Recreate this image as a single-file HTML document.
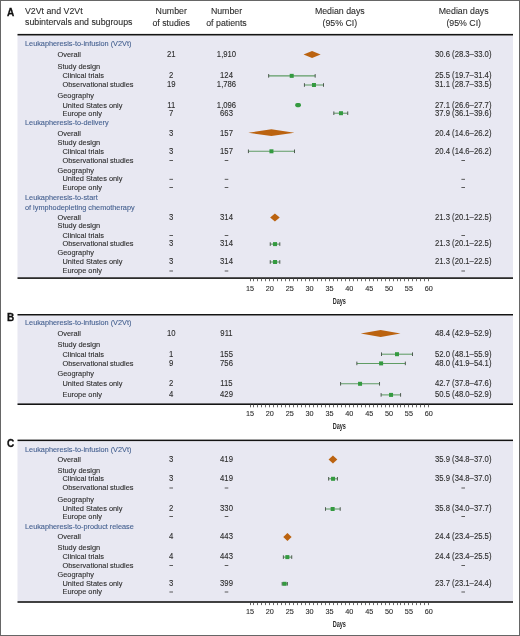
<!DOCTYPE html>
<html><head><meta charset="utf-8"><style>
html,body{margin:0;padding:0;background:#fff;}
body{width:520px;height:636px;overflow:hidden;position:relative;}
#frame{position:absolute;left:0;top:0;width:518px;height:634px;border:1px solid #666;}
svg{position:absolute;left:0;top:0;font-family:"Liberation Sans", sans-serif;filter:blur(0.3px);}
</style></head><body>
<svg width="520" height="636" viewBox="0 0 520 636">
<text x="7.00" y="15.80" font-size="10" fill="#111" text-anchor="start" font-weight="bold" stroke="#111" stroke-width="0.3" >A</text>
<text x="0" y="0" font-size="9.504" fill="#2b2b2b" text-anchor="start" font-weight="normal" stroke="#2b2b2b" stroke-width="0.1" transform="translate(25.00 14.45) scale(0.9259 1)" >V2Vt and V2Vt</text>
<text x="0" y="0" font-size="9.504" fill="#2b2b2b" text-anchor="start" font-weight="normal" stroke="#2b2b2b" stroke-width="0.1" transform="translate(25.00 25.30) scale(0.9259 1)" >subintervals and subgroups</text>
<text x="0" y="0" font-size="9.504" fill="#2b2b2b" text-anchor="middle" font-weight="normal" stroke="#2b2b2b" stroke-width="0.1" transform="translate(171.20 14.40) scale(0.9259 1)" >Number</text>
<text x="0" y="0" font-size="9.504" fill="#2b2b2b" text-anchor="middle" font-weight="normal" stroke="#2b2b2b" stroke-width="0.1" transform="translate(171.20 25.60) scale(0.9259 1)" >of studies</text>
<text x="0" y="0" font-size="9.504" fill="#2b2b2b" text-anchor="middle" font-weight="normal" stroke="#2b2b2b" stroke-width="0.1" transform="translate(226.50 14.40) scale(0.9259 1)" >Number</text>
<text x="0" y="0" font-size="9.504" fill="#2b2b2b" text-anchor="middle" font-weight="normal" stroke="#2b2b2b" stroke-width="0.1" transform="translate(226.50 25.60) scale(0.9259 1)" >of patients</text>
<text x="0" y="0" font-size="9.504" fill="#2b2b2b" text-anchor="middle" font-weight="normal" stroke="#2b2b2b" stroke-width="0.1" transform="translate(339.80 14.40) scale(0.9259 1)" >Median days</text>
<text x="0" y="0" font-size="9.504" fill="#2b2b2b" text-anchor="middle" font-weight="normal" stroke="#2b2b2b" stroke-width="0.1" transform="translate(339.80 25.60) scale(0.9259 1)" >(95% CI)</text>
<text x="0" y="0" font-size="9.504" fill="#2b2b2b" text-anchor="middle" font-weight="normal" stroke="#2b2b2b" stroke-width="0.1" transform="translate(463.70 14.40) scale(0.9259 1)" >Median days</text>
<text x="0" y="0" font-size="9.504" fill="#2b2b2b" text-anchor="middle" font-weight="normal" stroke="#2b2b2b" stroke-width="0.1" transform="translate(463.70 25.60) scale(0.9259 1)" >(95% CI)</text>
<rect x="17.50" y="35.50" width="495.50" height="242.00" fill="#e8e8f2"/>
<rect x="17.50" y="33.90" width="495.50" height="1.60" fill="#141414"/>
<text x="0" y="0" font-size="7.979" fill="#435f8f" text-anchor="start" font-weight="normal" stroke="#435f8f" stroke-width="0.1" transform="translate(25.00 45.70) scale(0.9174 1)" >Leukapheresis-to-infusion (V2Vt)</text>
<text x="0" y="0" font-size="7.992" fill="#2b2b2b" text-anchor="start" font-weight="normal" stroke="#2b2b2b" stroke-width="0.1" transform="translate(57.50 57.00) scale(0.9259 1)" >Overall</text>
<text x="0" y="0" font-size="8.239" fill="#2b2b2b" text-anchor="middle" font-weight="normal" stroke="#2b2b2b" stroke-width="0.1" transform="translate(171.20 57.00) scale(0.9346 1)" >21</text>
<text x="0" y="0" font-size="8.239" fill="#2b2b2b" text-anchor="middle" font-weight="normal" stroke="#2b2b2b" stroke-width="0.1" transform="translate(226.50 57.00) scale(0.9346 1)" >1,910</text>
<text x="0" y="0" font-size="8.239" fill="#2b2b2b" text-anchor="middle" font-weight="normal" stroke="#2b2b2b" stroke-width="0.1" transform="translate(463.20 57.00) scale(0.9346 1)" >30.6 (28.3–33.0)</text>
<polygon points="303.54,54.60 312.08,51.10 320.62,54.60 312.08,58.10" fill="#bb6310"/>
<text x="0" y="0" font-size="7.992" fill="#2b2b2b" text-anchor="start" font-weight="normal" stroke="#2b2b2b" stroke-width="0.1" transform="translate(57.50 69.00) scale(0.9259 1)" >Study design</text>
<text x="0" y="0" font-size="7.992" fill="#2b2b2b" text-anchor="start" font-weight="normal" stroke="#2b2b2b" stroke-width="0.1" transform="translate(62.50 78.00) scale(0.9259 1)" >Clinical trials</text>
<text x="0" y="0" font-size="8.239" fill="#2b2b2b" text-anchor="middle" font-weight="normal" stroke="#2b2b2b" stroke-width="0.1" transform="translate(171.20 78.00) scale(0.9346 1)" >2</text>
<text x="0" y="0" font-size="8.239" fill="#2b2b2b" text-anchor="middle" font-weight="normal" stroke="#2b2b2b" stroke-width="0.1" transform="translate(226.50 78.00) scale(0.9346 1)" >124</text>
<text x="0" y="0" font-size="8.239" fill="#2b2b2b" text-anchor="middle" font-weight="normal" stroke="#2b2b2b" stroke-width="0.1" transform="translate(463.20 78.00) scale(0.9346 1)" >25.5 (19.7–31.4)</text>
<line x1="268.67" y1="75.85" x2="315.16" y2="75.85" stroke="#5f9c64" stroke-width="1.05"/>
<line x1="268.67" y1="74.05" x2="268.67" y2="77.65" stroke="#4d5a4f" stroke-width="1"/>
<line x1="315.16" y1="74.05" x2="315.16" y2="77.65" stroke="#4d5a4f" stroke-width="1"/>
<rect x="289.72" y="73.85" width="4.00" height="4.00" fill="#349a40"/>
<text x="0" y="0" font-size="7.992" fill="#2b2b2b" text-anchor="start" font-weight="normal" stroke="#2b2b2b" stroke-width="0.1" transform="translate(62.50 87.30) scale(0.9259 1)" >Observational studies</text>
<text x="0" y="0" font-size="8.239" fill="#2b2b2b" text-anchor="middle" font-weight="normal" stroke="#2b2b2b" stroke-width="0.1" transform="translate(171.20 87.30) scale(0.9346 1)" >19</text>
<text x="0" y="0" font-size="8.239" fill="#2b2b2b" text-anchor="middle" font-weight="normal" stroke="#2b2b2b" stroke-width="0.1" transform="translate(226.50 87.30) scale(0.9346 1)" >1,786</text>
<text x="0" y="0" font-size="8.239" fill="#2b2b2b" text-anchor="middle" font-weight="normal" stroke="#2b2b2b" stroke-width="0.1" transform="translate(463.20 87.30) scale(0.9346 1)" >31.1 (28.7–33.5)</text>
<line x1="304.43" y1="85.00" x2="323.50" y2="85.00" stroke="#5f9c64" stroke-width="1.05"/>
<line x1="304.43" y1="83.20" x2="304.43" y2="86.80" stroke="#4d5a4f" stroke-width="1"/>
<line x1="323.50" y1="83.20" x2="323.50" y2="86.80" stroke="#4d5a4f" stroke-width="1"/>
<rect x="311.97" y="83.00" width="4.00" height="4.00" fill="#349a40"/>
<text x="0" y="0" font-size="7.992" fill="#2b2b2b" text-anchor="start" font-weight="normal" stroke="#2b2b2b" stroke-width="0.1" transform="translate(57.50 98.00) scale(0.9259 1)" >Geography</text>
<text x="0" y="0" font-size="7.992" fill="#2b2b2b" text-anchor="start" font-weight="normal" stroke="#2b2b2b" stroke-width="0.1" transform="translate(62.50 107.50) scale(0.9259 1)" >United States only</text>
<text x="0" y="0" font-size="8.239" fill="#2b2b2b" text-anchor="middle" font-weight="normal" stroke="#2b2b2b" stroke-width="0.1" transform="translate(171.20 107.50) scale(0.9346 1)" >11</text>
<text x="0" y="0" font-size="8.239" fill="#2b2b2b" text-anchor="middle" font-weight="normal" stroke="#2b2b2b" stroke-width="0.1" transform="translate(226.50 107.50) scale(0.9346 1)" >1,096</text>
<text x="0" y="0" font-size="8.239" fill="#2b2b2b" text-anchor="middle" font-weight="normal" stroke="#2b2b2b" stroke-width="0.1" transform="translate(463.20 107.50) scale(0.9346 1)" >27.1 (26.6–27.7)</text>
<rect x="295.17" y="103.05" width="5.8" height="4.1" rx="1.8" fill="#349a40"/>
<text x="0" y="0" font-size="7.992" fill="#2b2b2b" text-anchor="start" font-weight="normal" stroke="#2b2b2b" stroke-width="0.1" transform="translate(62.50 115.50) scale(0.9259 1)" >Europe only</text>
<text x="0" y="0" font-size="8.239" fill="#2b2b2b" text-anchor="middle" font-weight="normal" stroke="#2b2b2b" stroke-width="0.1" transform="translate(171.20 115.50) scale(0.9346 1)" >7</text>
<text x="0" y="0" font-size="8.239" fill="#2b2b2b" text-anchor="middle" font-weight="normal" stroke="#2b2b2b" stroke-width="0.1" transform="translate(226.50 115.50) scale(0.9346 1)" >663</text>
<text x="0" y="0" font-size="8.239" fill="#2b2b2b" text-anchor="middle" font-weight="normal" stroke="#2b2b2b" stroke-width="0.1" transform="translate(463.20 115.50) scale(0.9346 1)" >37.9 (36.1–39.6)</text>
<line x1="333.83" y1="113.20" x2="347.74" y2="113.20" stroke="#5f9c64" stroke-width="1.05"/>
<line x1="333.83" y1="111.40" x2="333.83" y2="115.00" stroke="#4d5a4f" stroke-width="1"/>
<line x1="347.74" y1="111.40" x2="347.74" y2="115.00" stroke="#4d5a4f" stroke-width="1"/>
<rect x="338.98" y="111.20" width="4.00" height="4.00" fill="#349a40"/>
<text x="0" y="0" font-size="7.979" fill="#435f8f" text-anchor="start" font-weight="normal" stroke="#435f8f" stroke-width="0.1" transform="translate(25.00 125.00) scale(0.9174 1)" >Leukapheresis-to-delivery</text>
<text x="0" y="0" font-size="7.992" fill="#2b2b2b" text-anchor="start" font-weight="normal" stroke="#2b2b2b" stroke-width="0.1" transform="translate(57.50 135.50) scale(0.9259 1)" >Overall</text>
<text x="0" y="0" font-size="8.239" fill="#2b2b2b" text-anchor="middle" font-weight="normal" stroke="#2b2b2b" stroke-width="0.1" transform="translate(171.20 135.50) scale(0.9346 1)" >3</text>
<text x="0" y="0" font-size="8.239" fill="#2b2b2b" text-anchor="middle" font-weight="normal" stroke="#2b2b2b" stroke-width="0.1" transform="translate(226.50 135.50) scale(0.9346 1)" >157</text>
<text x="0" y="0" font-size="8.239" fill="#2b2b2b" text-anchor="middle" font-weight="normal" stroke="#2b2b2b" stroke-width="0.1" transform="translate(463.20 135.50) scale(0.9346 1)" >20.4 (14.6–26.2)</text>
<polygon points="248.31,132.70 271.35,129.30 294.40,132.70 271.35,136.10" fill="#bb6310"/>
<text x="0" y="0" font-size="7.992" fill="#2b2b2b" text-anchor="start" font-weight="normal" stroke="#2b2b2b" stroke-width="0.1" transform="translate(57.50 145.00) scale(0.9259 1)" >Study design</text>
<text x="0" y="0" font-size="7.992" fill="#2b2b2b" text-anchor="start" font-weight="normal" stroke="#2b2b2b" stroke-width="0.1" transform="translate(62.50 153.50) scale(0.9259 1)" >Clinical trials</text>
<text x="0" y="0" font-size="8.239" fill="#2b2b2b" text-anchor="middle" font-weight="normal" stroke="#2b2b2b" stroke-width="0.1" transform="translate(171.20 153.50) scale(0.9346 1)" >3</text>
<text x="0" y="0" font-size="8.239" fill="#2b2b2b" text-anchor="middle" font-weight="normal" stroke="#2b2b2b" stroke-width="0.1" transform="translate(226.50 153.50) scale(0.9346 1)" >157</text>
<text x="0" y="0" font-size="8.239" fill="#2b2b2b" text-anchor="middle" font-weight="normal" stroke="#2b2b2b" stroke-width="0.1" transform="translate(463.20 153.50) scale(0.9346 1)" >20.4 (14.6–26.2)</text>
<line x1="248.41" y1="151.30" x2="294.50" y2="151.30" stroke="#5f9c64" stroke-width="1.05"/>
<line x1="248.41" y1="149.50" x2="248.41" y2="153.10" stroke="#4d5a4f" stroke-width="1"/>
<line x1="294.50" y1="149.50" x2="294.50" y2="153.10" stroke="#4d5a4f" stroke-width="1"/>
<rect x="269.45" y="149.30" width="4.00" height="4.00" fill="#349a40"/>
<text x="0" y="0" font-size="7.992" fill="#2b2b2b" text-anchor="start" font-weight="normal" stroke="#2b2b2b" stroke-width="0.1" transform="translate(62.50 162.50) scale(0.9259 1)" >Observational studies</text>
<rect x="169.40" y="160.05" width="3.60" height="0.90" fill="#4a4a4a"/>
<rect x="224.70" y="160.05" width="3.60" height="0.90" fill="#4a4a4a"/>
<rect x="461.40" y="160.05" width="3.60" height="0.90" fill="#4a4a4a"/>
<text x="0" y="0" font-size="7.992" fill="#2b2b2b" text-anchor="start" font-weight="normal" stroke="#2b2b2b" stroke-width="0.1" transform="translate(57.50 172.50) scale(0.9259 1)" >Geography</text>
<text x="0" y="0" font-size="7.992" fill="#2b2b2b" text-anchor="start" font-weight="normal" stroke="#2b2b2b" stroke-width="0.1" transform="translate(62.50 181.30) scale(0.9259 1)" >United States only</text>
<rect x="169.40" y="178.85" width="3.60" height="0.90" fill="#4a4a4a"/>
<rect x="224.70" y="178.85" width="3.60" height="0.90" fill="#4a4a4a"/>
<rect x="461.40" y="178.85" width="3.60" height="0.90" fill="#4a4a4a"/>
<text x="0" y="0" font-size="7.992" fill="#2b2b2b" text-anchor="start" font-weight="normal" stroke="#2b2b2b" stroke-width="0.1" transform="translate(62.50 189.50) scale(0.9259 1)" >Europe only</text>
<rect x="169.40" y="187.05" width="3.60" height="0.90" fill="#4a4a4a"/>
<rect x="224.70" y="187.05" width="3.60" height="0.90" fill="#4a4a4a"/>
<rect x="461.40" y="187.05" width="3.60" height="0.90" fill="#4a4a4a"/>
<text x="0" y="0" font-size="7.979" fill="#435f8f" text-anchor="start" font-weight="normal" stroke="#435f8f" stroke-width="0.1" transform="translate(25.00 200.00) scale(0.9174 1)" >Leukapheresis-to-start</text>
<text x="0" y="0" font-size="7.979" fill="#435f8f" text-anchor="start" font-weight="normal" stroke="#435f8f" stroke-width="0.1" transform="translate(25.00 210.00) scale(0.9174 1)" >of lymphodepleting chemotherapy</text>
<text x="0" y="0" font-size="7.992" fill="#2b2b2b" text-anchor="start" font-weight="normal" stroke="#2b2b2b" stroke-width="0.1" transform="translate(57.50 219.50) scale(0.9259 1)" >Overall</text>
<text x="0" y="0" font-size="8.239" fill="#2b2b2b" text-anchor="middle" font-weight="normal" stroke="#2b2b2b" stroke-width="0.1" transform="translate(171.20 219.50) scale(0.9346 1)" >3</text>
<text x="0" y="0" font-size="8.239" fill="#2b2b2b" text-anchor="middle" font-weight="normal" stroke="#2b2b2b" stroke-width="0.1" transform="translate(226.50 219.50) scale(0.9346 1)" >314</text>
<text x="0" y="0" font-size="8.239" fill="#2b2b2b" text-anchor="middle" font-weight="normal" stroke="#2b2b2b" stroke-width="0.1" transform="translate(463.20 219.50) scale(0.9346 1)" >21.3 (20.1–22.5)</text>
<polygon points="270.16,217.50 274.93,213.60 279.70,217.50 274.93,221.40" fill="#bb6310"/>
<text x="0" y="0" font-size="7.992" fill="#2b2b2b" text-anchor="start" font-weight="normal" stroke="#2b2b2b" stroke-width="0.1" transform="translate(57.50 228.00) scale(0.9259 1)" >Study design</text>
<text x="0" y="0" font-size="7.992" fill="#2b2b2b" text-anchor="start" font-weight="normal" stroke="#2b2b2b" stroke-width="0.1" transform="translate(62.50 237.50) scale(0.9259 1)" >Clinical trials</text>
<rect x="169.40" y="235.05" width="3.60" height="0.90" fill="#4a4a4a"/>
<rect x="224.70" y="235.05" width="3.60" height="0.90" fill="#4a4a4a"/>
<rect x="461.40" y="235.05" width="3.60" height="0.90" fill="#4a4a4a"/>
<text x="0" y="0" font-size="7.992" fill="#2b2b2b" text-anchor="start" font-weight="normal" stroke="#2b2b2b" stroke-width="0.1" transform="translate(62.50 246.00) scale(0.9259 1)" >Observational studies</text>
<text x="0" y="0" font-size="8.239" fill="#2b2b2b" text-anchor="middle" font-weight="normal" stroke="#2b2b2b" stroke-width="0.1" transform="translate(171.20 246.00) scale(0.9346 1)" >3</text>
<text x="0" y="0" font-size="8.239" fill="#2b2b2b" text-anchor="middle" font-weight="normal" stroke="#2b2b2b" stroke-width="0.1" transform="translate(226.50 246.00) scale(0.9346 1)" >314</text>
<text x="0" y="0" font-size="8.239" fill="#2b2b2b" text-anchor="middle" font-weight="normal" stroke="#2b2b2b" stroke-width="0.1" transform="translate(463.20 246.00) scale(0.9346 1)" >21.3 (20.1–22.5)</text>
<line x1="270.26" y1="244.10" x2="279.80" y2="244.10" stroke="#5f9c64" stroke-width="1.05"/>
<line x1="270.26" y1="242.30" x2="270.26" y2="245.90" stroke="#4d5a4f" stroke-width="1"/>
<line x1="279.80" y1="242.30" x2="279.80" y2="245.90" stroke="#4d5a4f" stroke-width="1"/>
<rect x="273.03" y="242.10" width="4.00" height="4.00" fill="#349a40"/>
<text x="0" y="0" font-size="7.992" fill="#2b2b2b" text-anchor="start" font-weight="normal" stroke="#2b2b2b" stroke-width="0.1" transform="translate(57.50 255.00) scale(0.9259 1)" >Geography</text>
<text x="0" y="0" font-size="7.992" fill="#2b2b2b" text-anchor="start" font-weight="normal" stroke="#2b2b2b" stroke-width="0.1" transform="translate(62.50 264.00) scale(0.9259 1)" >United States only</text>
<text x="0" y="0" font-size="8.239" fill="#2b2b2b" text-anchor="middle" font-weight="normal" stroke="#2b2b2b" stroke-width="0.1" transform="translate(171.20 264.00) scale(0.9346 1)" >3</text>
<text x="0" y="0" font-size="8.239" fill="#2b2b2b" text-anchor="middle" font-weight="normal" stroke="#2b2b2b" stroke-width="0.1" transform="translate(226.50 264.00) scale(0.9346 1)" >314</text>
<text x="0" y="0" font-size="8.239" fill="#2b2b2b" text-anchor="middle" font-weight="normal" stroke="#2b2b2b" stroke-width="0.1" transform="translate(463.20 264.00) scale(0.9346 1)" >21.3 (20.1–22.5)</text>
<line x1="270.26" y1="262.00" x2="279.80" y2="262.00" stroke="#5f9c64" stroke-width="1.05"/>
<line x1="270.26" y1="260.20" x2="270.26" y2="263.80" stroke="#4d5a4f" stroke-width="1"/>
<line x1="279.80" y1="260.20" x2="279.80" y2="263.80" stroke="#4d5a4f" stroke-width="1"/>
<rect x="273.03" y="260.00" width="4.00" height="4.00" fill="#349a40"/>
<text x="0" y="0" font-size="7.992" fill="#2b2b2b" text-anchor="start" font-weight="normal" stroke="#2b2b2b" stroke-width="0.1" transform="translate(62.50 273.00) scale(0.9259 1)" >Europe only</text>
<rect x="169.40" y="270.55" width="3.60" height="0.90" fill="#4a4a4a"/>
<rect x="224.70" y="270.55" width="3.60" height="0.90" fill="#4a4a4a"/>
<rect x="461.40" y="270.55" width="3.60" height="0.90" fill="#4a4a4a"/>
<rect x="17.50" y="277.30" width="495.50" height="1.60" fill="#141414"/>
<rect x="250.08" y="278.30" width="0.8" height="2.90" fill="#444"/>
<rect x="253.08" y="278.30" width="0.8" height="2.90" fill="#444"/>
<rect x="257.08" y="278.30" width="0.8" height="2.90" fill="#444"/>
<rect x="261.08" y="278.30" width="0.8" height="2.90" fill="#444"/>
<rect x="265.08" y="278.30" width="0.8" height="2.90" fill="#444"/>
<rect x="269.08" y="278.30" width="0.8" height="2.90" fill="#444"/>
<rect x="273.08" y="278.30" width="0.8" height="2.90" fill="#444"/>
<rect x="277.08" y="278.30" width="0.8" height="2.90" fill="#444"/>
<rect x="281.08" y="278.30" width="0.8" height="2.90" fill="#444"/>
<rect x="285.08" y="278.30" width="0.8" height="2.90" fill="#444"/>
<rect x="289.08" y="278.30" width="0.8" height="2.90" fill="#444"/>
<rect x="293.08" y="278.30" width="0.8" height="2.90" fill="#444"/>
<rect x="297.08" y="278.30" width="0.8" height="2.90" fill="#444"/>
<rect x="301.08" y="278.30" width="0.8" height="2.90" fill="#444"/>
<rect x="305.08" y="278.30" width="0.8" height="2.90" fill="#444"/>
<rect x="309.08" y="278.30" width="0.8" height="2.90" fill="#444"/>
<rect x="313.08" y="278.30" width="0.8" height="2.90" fill="#444"/>
<rect x="317.08" y="278.30" width="0.8" height="2.90" fill="#444"/>
<rect x="321.08" y="278.30" width="0.8" height="2.90" fill="#444"/>
<rect x="325.08" y="278.30" width="0.8" height="2.90" fill="#444"/>
<rect x="329.08" y="278.30" width="0.8" height="2.90" fill="#444"/>
<rect x="333.08" y="278.30" width="0.8" height="2.90" fill="#444"/>
<rect x="337.08" y="278.30" width="0.8" height="2.90" fill="#444"/>
<rect x="341.08" y="278.30" width="0.8" height="2.90" fill="#444"/>
<rect x="345.08" y="278.30" width="0.8" height="2.90" fill="#444"/>
<rect x="349.08" y="278.30" width="0.8" height="2.90" fill="#444"/>
<rect x="353.08" y="278.30" width="0.8" height="2.90" fill="#444"/>
<rect x="357.08" y="278.30" width="0.8" height="2.90" fill="#444"/>
<rect x="361.08" y="278.30" width="0.8" height="2.90" fill="#444"/>
<rect x="365.08" y="278.30" width="0.8" height="2.90" fill="#444"/>
<rect x="369.08" y="278.30" width="0.8" height="2.90" fill="#444"/>
<rect x="373.08" y="278.30" width="0.8" height="2.90" fill="#444"/>
<rect x="377.08" y="278.30" width="0.8" height="2.90" fill="#444"/>
<rect x="381.08" y="278.30" width="0.8" height="2.90" fill="#444"/>
<rect x="385.08" y="278.30" width="0.8" height="2.90" fill="#444"/>
<rect x="389.08" y="278.30" width="0.8" height="2.90" fill="#444"/>
<rect x="393.08" y="278.30" width="0.8" height="2.90" fill="#444"/>
<rect x="397.08" y="278.30" width="0.8" height="2.90" fill="#444"/>
<rect x="400.08" y="278.30" width="0.8" height="2.90" fill="#444"/>
<rect x="404.08" y="278.30" width="0.8" height="2.90" fill="#444"/>
<rect x="408.08" y="278.30" width="0.8" height="2.90" fill="#444"/>
<rect x="412.08" y="278.30" width="0.8" height="2.90" fill="#444"/>
<rect x="416.08" y="278.30" width="0.8" height="2.90" fill="#444"/>
<rect x="420.08" y="278.30" width="0.8" height="2.90" fill="#444"/>
<rect x="424.08" y="278.30" width="0.8" height="2.90" fill="#444"/>
<rect x="428.08" y="278.30" width="0.8" height="2.90" fill="#444"/>
<text x="0" y="0" font-size="7.811" fill="#2b2b2b" text-anchor="middle" font-weight="normal" stroke="#2b2b2b" stroke-width="0.1" transform="translate(250.00 290.50) scale(0.9346 1)" >15</text>
<text x="0" y="0" font-size="7.811" fill="#2b2b2b" text-anchor="middle" font-weight="normal" stroke="#2b2b2b" stroke-width="0.1" transform="translate(269.87 290.50) scale(0.9346 1)" >20</text>
<text x="0" y="0" font-size="7.811" fill="#2b2b2b" text-anchor="middle" font-weight="normal" stroke="#2b2b2b" stroke-width="0.1" transform="translate(289.73 290.50) scale(0.9346 1)" >25</text>
<text x="0" y="0" font-size="7.811" fill="#2b2b2b" text-anchor="middle" font-weight="normal" stroke="#2b2b2b" stroke-width="0.1" transform="translate(309.60 290.50) scale(0.9346 1)" >30</text>
<text x="0" y="0" font-size="7.811" fill="#2b2b2b" text-anchor="middle" font-weight="normal" stroke="#2b2b2b" stroke-width="0.1" transform="translate(329.46 290.50) scale(0.9346 1)" >35</text>
<text x="0" y="0" font-size="7.811" fill="#2b2b2b" text-anchor="middle" font-weight="normal" stroke="#2b2b2b" stroke-width="0.1" transform="translate(349.32 290.50) scale(0.9346 1)" >40</text>
<text x="0" y="0" font-size="7.811" fill="#2b2b2b" text-anchor="middle" font-weight="normal" stroke="#2b2b2b" stroke-width="0.1" transform="translate(369.19 290.50) scale(0.9346 1)" >45</text>
<text x="0" y="0" font-size="7.811" fill="#2b2b2b" text-anchor="middle" font-weight="normal" stroke="#2b2b2b" stroke-width="0.1" transform="translate(389.06 290.50) scale(0.9346 1)" >50</text>
<text x="0" y="0" font-size="7.811" fill="#2b2b2b" text-anchor="middle" font-weight="normal" stroke="#2b2b2b" stroke-width="0.1" transform="translate(408.92 290.50) scale(0.9346 1)" >55</text>
<text x="0" y="0" font-size="7.811" fill="#2b2b2b" text-anchor="middle" font-weight="normal" stroke="#2b2b2b" stroke-width="0.1" transform="translate(428.78 290.50) scale(0.9346 1)" >60</text>
<text x="0" y="0" font-size="9.9" font-weight="bold" fill="#2b2b2b" text-anchor="middle" transform="translate(339.3 303.6) scale(0.56 1)">Days</text>
<text x="7.00" y="321.30" font-size="10" fill="#111" text-anchor="start" font-weight="bold" stroke="#111" stroke-width="0.3" >B</text>
<rect x="17.50" y="315.40" width="495.50" height="88.20" fill="#e8e8f2"/>
<rect x="17.50" y="314.00" width="495.50" height="1.50" fill="#141414"/>
<text x="0" y="0" font-size="7.979" fill="#435f8f" text-anchor="start" font-weight="normal" stroke="#435f8f" stroke-width="0.1" transform="translate(25.00 325.00) scale(0.9174 1)" >Leukapheresis-to-infusion (V2Vt)</text>
<text x="0" y="0" font-size="7.992" fill="#2b2b2b" text-anchor="start" font-weight="normal" stroke="#2b2b2b" stroke-width="0.1" transform="translate(57.50 335.50) scale(0.9259 1)" >Overall</text>
<text x="0" y="0" font-size="8.239" fill="#2b2b2b" text-anchor="middle" font-weight="normal" stroke="#2b2b2b" stroke-width="0.1" transform="translate(171.20 335.50) scale(0.9346 1)" >10</text>
<text x="0" y="0" font-size="8.239" fill="#2b2b2b" text-anchor="middle" font-weight="normal" stroke="#2b2b2b" stroke-width="0.1" transform="translate(226.50 335.50) scale(0.9346 1)" >911</text>
<text x="0" y="0" font-size="8.239" fill="#2b2b2b" text-anchor="middle" font-weight="normal" stroke="#2b2b2b" stroke-width="0.1" transform="translate(463.20 335.50) scale(0.9346 1)" >48.4 (42.9–52.9)</text>
<polygon points="360.75,333.50 380.61,330.10 400.48,333.50 380.61,336.90" fill="#bb6310"/>
<text x="0" y="0" font-size="7.992" fill="#2b2b2b" text-anchor="start" font-weight="normal" stroke="#2b2b2b" stroke-width="0.1" transform="translate(57.50 346.50) scale(0.9259 1)" >Study design</text>
<text x="0" y="0" font-size="7.992" fill="#2b2b2b" text-anchor="start" font-weight="normal" stroke="#2b2b2b" stroke-width="0.1" transform="translate(62.50 356.50) scale(0.9259 1)" >Clinical trials</text>
<text x="0" y="0" font-size="8.239" fill="#2b2b2b" text-anchor="middle" font-weight="normal" stroke="#2b2b2b" stroke-width="0.1" transform="translate(171.20 356.50) scale(0.9346 1)" >1</text>
<text x="0" y="0" font-size="8.239" fill="#2b2b2b" text-anchor="middle" font-weight="normal" stroke="#2b2b2b" stroke-width="0.1" transform="translate(226.50 356.50) scale(0.9346 1)" >155</text>
<text x="0" y="0" font-size="8.239" fill="#2b2b2b" text-anchor="middle" font-weight="normal" stroke="#2b2b2b" stroke-width="0.1" transform="translate(463.20 356.50) scale(0.9346 1)" >52.0 (48.1–55.9)</text>
<line x1="381.51" y1="354.20" x2="412.50" y2="354.20" stroke="#5f9c64" stroke-width="1.05"/>
<line x1="381.51" y1="352.40" x2="381.51" y2="356.00" stroke="#4d5a4f" stroke-width="1"/>
<line x1="412.50" y1="352.40" x2="412.50" y2="356.00" stroke="#4d5a4f" stroke-width="1"/>
<rect x="395.00" y="352.20" width="4.00" height="4.00" fill="#349a40"/>
<text x="0" y="0" font-size="7.992" fill="#2b2b2b" text-anchor="start" font-weight="normal" stroke="#2b2b2b" stroke-width="0.1" transform="translate(62.50 365.50) scale(0.9259 1)" >Observational studies</text>
<text x="0" y="0" font-size="8.239" fill="#2b2b2b" text-anchor="middle" font-weight="normal" stroke="#2b2b2b" stroke-width="0.1" transform="translate(171.20 365.50) scale(0.9346 1)" >9</text>
<text x="0" y="0" font-size="8.239" fill="#2b2b2b" text-anchor="middle" font-weight="normal" stroke="#2b2b2b" stroke-width="0.1" transform="translate(226.50 365.50) scale(0.9346 1)" >756</text>
<text x="0" y="0" font-size="8.239" fill="#2b2b2b" text-anchor="middle" font-weight="normal" stroke="#2b2b2b" stroke-width="0.1" transform="translate(463.20 365.50) scale(0.9346 1)" >48.0 (41.9–54.1)</text>
<line x1="356.87" y1="363.40" x2="405.34" y2="363.40" stroke="#5f9c64" stroke-width="1.05"/>
<line x1="356.87" y1="361.60" x2="356.87" y2="365.20" stroke="#4d5a4f" stroke-width="1"/>
<line x1="405.34" y1="361.60" x2="405.34" y2="365.20" stroke="#4d5a4f" stroke-width="1"/>
<rect x="379.11" y="361.40" width="4.00" height="4.00" fill="#349a40"/>
<text x="0" y="0" font-size="7.992" fill="#2b2b2b" text-anchor="start" font-weight="normal" stroke="#2b2b2b" stroke-width="0.1" transform="translate(57.50 375.50) scale(0.9259 1)" >Geography</text>
<text x="0" y="0" font-size="7.992" fill="#2b2b2b" text-anchor="start" font-weight="normal" stroke="#2b2b2b" stroke-width="0.1" transform="translate(62.50 386.00) scale(0.9259 1)" >United States only</text>
<text x="0" y="0" font-size="8.239" fill="#2b2b2b" text-anchor="middle" font-weight="normal" stroke="#2b2b2b" stroke-width="0.1" transform="translate(171.20 386.00) scale(0.9346 1)" >2</text>
<text x="0" y="0" font-size="8.239" fill="#2b2b2b" text-anchor="middle" font-weight="normal" stroke="#2b2b2b" stroke-width="0.1" transform="translate(226.50 386.00) scale(0.9346 1)" >115</text>
<text x="0" y="0" font-size="8.239" fill="#2b2b2b" text-anchor="middle" font-weight="normal" stroke="#2b2b2b" stroke-width="0.1" transform="translate(463.20 386.00) scale(0.9346 1)" >42.7 (37.8–47.6)</text>
<line x1="340.58" y1="383.80" x2="379.52" y2="383.80" stroke="#5f9c64" stroke-width="1.05"/>
<line x1="340.58" y1="382.00" x2="340.58" y2="385.60" stroke="#4d5a4f" stroke-width="1"/>
<line x1="379.52" y1="382.00" x2="379.52" y2="385.60" stroke="#4d5a4f" stroke-width="1"/>
<rect x="358.05" y="381.80" width="4.00" height="4.00" fill="#349a40"/>
<text x="0" y="0" font-size="7.992" fill="#2b2b2b" text-anchor="start" font-weight="normal" stroke="#2b2b2b" stroke-width="0.1" transform="translate(62.50 397.00) scale(0.9259 1)" >Europe only</text>
<text x="0" y="0" font-size="8.239" fill="#2b2b2b" text-anchor="middle" font-weight="normal" stroke="#2b2b2b" stroke-width="0.1" transform="translate(171.20 397.00) scale(0.9346 1)" >4</text>
<text x="0" y="0" font-size="8.239" fill="#2b2b2b" text-anchor="middle" font-weight="normal" stroke="#2b2b2b" stroke-width="0.1" transform="translate(226.50 397.00) scale(0.9346 1)" >429</text>
<text x="0" y="0" font-size="8.239" fill="#2b2b2b" text-anchor="middle" font-weight="normal" stroke="#2b2b2b" stroke-width="0.1" transform="translate(463.20 397.00) scale(0.9346 1)" >50.5 (48.0–52.9)</text>
<line x1="381.11" y1="394.90" x2="400.58" y2="394.90" stroke="#5f9c64" stroke-width="1.05"/>
<line x1="381.11" y1="393.10" x2="381.11" y2="396.70" stroke="#4d5a4f" stroke-width="1"/>
<line x1="400.58" y1="393.10" x2="400.58" y2="396.70" stroke="#4d5a4f" stroke-width="1"/>
<rect x="389.04" y="392.90" width="4.00" height="4.00" fill="#349a40"/>
<rect x="17.50" y="403.40" width="495.50" height="1.60" fill="#141414"/>
<rect x="250.08" y="404.40" width="0.8" height="2.90" fill="#444"/>
<rect x="253.08" y="404.40" width="0.8" height="2.90" fill="#444"/>
<rect x="257.08" y="404.40" width="0.8" height="2.90" fill="#444"/>
<rect x="261.08" y="404.40" width="0.8" height="2.90" fill="#444"/>
<rect x="265.08" y="404.40" width="0.8" height="2.90" fill="#444"/>
<rect x="269.08" y="404.40" width="0.8" height="2.90" fill="#444"/>
<rect x="273.08" y="404.40" width="0.8" height="2.90" fill="#444"/>
<rect x="277.08" y="404.40" width="0.8" height="2.90" fill="#444"/>
<rect x="281.08" y="404.40" width="0.8" height="2.90" fill="#444"/>
<rect x="285.08" y="404.40" width="0.8" height="2.90" fill="#444"/>
<rect x="289.08" y="404.40" width="0.8" height="2.90" fill="#444"/>
<rect x="293.08" y="404.40" width="0.8" height="2.90" fill="#444"/>
<rect x="297.08" y="404.40" width="0.8" height="2.90" fill="#444"/>
<rect x="301.08" y="404.40" width="0.8" height="2.90" fill="#444"/>
<rect x="305.08" y="404.40" width="0.8" height="2.90" fill="#444"/>
<rect x="309.08" y="404.40" width="0.8" height="2.90" fill="#444"/>
<rect x="313.08" y="404.40" width="0.8" height="2.90" fill="#444"/>
<rect x="317.08" y="404.40" width="0.8" height="2.90" fill="#444"/>
<rect x="321.08" y="404.40" width="0.8" height="2.90" fill="#444"/>
<rect x="325.08" y="404.40" width="0.8" height="2.90" fill="#444"/>
<rect x="329.08" y="404.40" width="0.8" height="2.90" fill="#444"/>
<rect x="333.08" y="404.40" width="0.8" height="2.90" fill="#444"/>
<rect x="337.08" y="404.40" width="0.8" height="2.90" fill="#444"/>
<rect x="341.08" y="404.40" width="0.8" height="2.90" fill="#444"/>
<rect x="345.08" y="404.40" width="0.8" height="2.90" fill="#444"/>
<rect x="349.08" y="404.40" width="0.8" height="2.90" fill="#444"/>
<rect x="353.08" y="404.40" width="0.8" height="2.90" fill="#444"/>
<rect x="357.08" y="404.40" width="0.8" height="2.90" fill="#444"/>
<rect x="361.08" y="404.40" width="0.8" height="2.90" fill="#444"/>
<rect x="365.08" y="404.40" width="0.8" height="2.90" fill="#444"/>
<rect x="369.08" y="404.40" width="0.8" height="2.90" fill="#444"/>
<rect x="373.08" y="404.40" width="0.8" height="2.90" fill="#444"/>
<rect x="377.08" y="404.40" width="0.8" height="2.90" fill="#444"/>
<rect x="381.08" y="404.40" width="0.8" height="2.90" fill="#444"/>
<rect x="385.08" y="404.40" width="0.8" height="2.90" fill="#444"/>
<rect x="389.08" y="404.40" width="0.8" height="2.90" fill="#444"/>
<rect x="393.08" y="404.40" width="0.8" height="2.90" fill="#444"/>
<rect x="397.08" y="404.40" width="0.8" height="2.90" fill="#444"/>
<rect x="400.08" y="404.40" width="0.8" height="2.90" fill="#444"/>
<rect x="404.08" y="404.40" width="0.8" height="2.90" fill="#444"/>
<rect x="408.08" y="404.40" width="0.8" height="2.90" fill="#444"/>
<rect x="412.08" y="404.40" width="0.8" height="2.90" fill="#444"/>
<rect x="416.08" y="404.40" width="0.8" height="2.90" fill="#444"/>
<rect x="420.08" y="404.40" width="0.8" height="2.90" fill="#444"/>
<rect x="424.08" y="404.40" width="0.8" height="2.90" fill="#444"/>
<rect x="428.08" y="404.40" width="0.8" height="2.90" fill="#444"/>
<text x="0" y="0" font-size="7.811" fill="#2b2b2b" text-anchor="middle" font-weight="normal" stroke="#2b2b2b" stroke-width="0.1" transform="translate(250.00 416.40) scale(0.9346 1)" >15</text>
<text x="0" y="0" font-size="7.811" fill="#2b2b2b" text-anchor="middle" font-weight="normal" stroke="#2b2b2b" stroke-width="0.1" transform="translate(269.87 416.40) scale(0.9346 1)" >20</text>
<text x="0" y="0" font-size="7.811" fill="#2b2b2b" text-anchor="middle" font-weight="normal" stroke="#2b2b2b" stroke-width="0.1" transform="translate(289.73 416.40) scale(0.9346 1)" >25</text>
<text x="0" y="0" font-size="7.811" fill="#2b2b2b" text-anchor="middle" font-weight="normal" stroke="#2b2b2b" stroke-width="0.1" transform="translate(309.60 416.40) scale(0.9346 1)" >30</text>
<text x="0" y="0" font-size="7.811" fill="#2b2b2b" text-anchor="middle" font-weight="normal" stroke="#2b2b2b" stroke-width="0.1" transform="translate(329.46 416.40) scale(0.9346 1)" >35</text>
<text x="0" y="0" font-size="7.811" fill="#2b2b2b" text-anchor="middle" font-weight="normal" stroke="#2b2b2b" stroke-width="0.1" transform="translate(349.32 416.40) scale(0.9346 1)" >40</text>
<text x="0" y="0" font-size="7.811" fill="#2b2b2b" text-anchor="middle" font-weight="normal" stroke="#2b2b2b" stroke-width="0.1" transform="translate(369.19 416.40) scale(0.9346 1)" >45</text>
<text x="0" y="0" font-size="7.811" fill="#2b2b2b" text-anchor="middle" font-weight="normal" stroke="#2b2b2b" stroke-width="0.1" transform="translate(389.06 416.40) scale(0.9346 1)" >50</text>
<text x="0" y="0" font-size="7.811" fill="#2b2b2b" text-anchor="middle" font-weight="normal" stroke="#2b2b2b" stroke-width="0.1" transform="translate(408.92 416.40) scale(0.9346 1)" >55</text>
<text x="0" y="0" font-size="7.811" fill="#2b2b2b" text-anchor="middle" font-weight="normal" stroke="#2b2b2b" stroke-width="0.1" transform="translate(428.78 416.40) scale(0.9346 1)" >60</text>
<text x="0" y="0" font-size="9.9" font-weight="bold" fill="#2b2b2b" text-anchor="middle" transform="translate(339.3 429.3) scale(0.56 1)">Days</text>
<text x="7.00" y="447.30" font-size="10" fill="#111" text-anchor="start" font-weight="bold" stroke="#111" stroke-width="0.3" >C</text>
<rect x="17.50" y="441.10" width="495.50" height="160.30" fill="#e8e8f2"/>
<rect x="17.50" y="439.60" width="495.50" height="1.50" fill="#141414"/>
<text x="0" y="0" font-size="7.979" fill="#435f8f" text-anchor="start" font-weight="normal" stroke="#435f8f" stroke-width="0.1" transform="translate(25.00 451.50) scale(0.9174 1)" >Leukapheresis-to-infusion (V2Vt)</text>
<text x="0" y="0" font-size="7.992" fill="#2b2b2b" text-anchor="start" font-weight="normal" stroke="#2b2b2b" stroke-width="0.1" transform="translate(57.50 461.50) scale(0.9259 1)" >Overall</text>
<text x="0" y="0" font-size="8.239" fill="#2b2b2b" text-anchor="middle" font-weight="normal" stroke="#2b2b2b" stroke-width="0.1" transform="translate(171.20 461.50) scale(0.9346 1)" >3</text>
<text x="0" y="0" font-size="8.239" fill="#2b2b2b" text-anchor="middle" font-weight="normal" stroke="#2b2b2b" stroke-width="0.1" transform="translate(226.50 461.50) scale(0.9346 1)" >419</text>
<text x="0" y="0" font-size="8.239" fill="#2b2b2b" text-anchor="middle" font-weight="normal" stroke="#2b2b2b" stroke-width="0.1" transform="translate(463.20 461.50) scale(0.9346 1)" >35.9 (34.8–37.0)</text>
<polygon points="328.57,459.50 332.94,455.60 337.31,459.50 332.94,463.40" fill="#bb6310"/>
<text x="0" y="0" font-size="7.992" fill="#2b2b2b" text-anchor="start" font-weight="normal" stroke="#2b2b2b" stroke-width="0.1" transform="translate(57.50 472.50) scale(0.9259 1)" >Study design</text>
<text x="0" y="0" font-size="7.992" fill="#2b2b2b" text-anchor="start" font-weight="normal" stroke="#2b2b2b" stroke-width="0.1" transform="translate(62.50 481.00) scale(0.9259 1)" >Clinical trials</text>
<text x="0" y="0" font-size="8.239" fill="#2b2b2b" text-anchor="middle" font-weight="normal" stroke="#2b2b2b" stroke-width="0.1" transform="translate(171.20 481.00) scale(0.9346 1)" >3</text>
<text x="0" y="0" font-size="8.239" fill="#2b2b2b" text-anchor="middle" font-weight="normal" stroke="#2b2b2b" stroke-width="0.1" transform="translate(226.50 481.00) scale(0.9346 1)" >419</text>
<text x="0" y="0" font-size="8.239" fill="#2b2b2b" text-anchor="middle" font-weight="normal" stroke="#2b2b2b" stroke-width="0.1" transform="translate(463.20 481.00) scale(0.9346 1)" >35.9 (34.8–37.0)</text>
<line x1="328.67" y1="478.80" x2="337.41" y2="478.80" stroke="#5f9c64" stroke-width="1.05"/>
<line x1="328.67" y1="477.00" x2="328.67" y2="480.60" stroke="#4d5a4f" stroke-width="1"/>
<line x1="337.41" y1="477.00" x2="337.41" y2="480.60" stroke="#4d5a4f" stroke-width="1"/>
<rect x="331.04" y="476.80" width="4.00" height="4.00" fill="#349a40"/>
<text x="0" y="0" font-size="7.992" fill="#2b2b2b" text-anchor="start" font-weight="normal" stroke="#2b2b2b" stroke-width="0.1" transform="translate(62.50 490.00) scale(0.9259 1)" >Observational studies</text>
<rect x="169.40" y="487.55" width="3.60" height="0.90" fill="#4a4a4a"/>
<rect x="224.70" y="487.55" width="3.60" height="0.90" fill="#4a4a4a"/>
<rect x="461.40" y="487.55" width="3.60" height="0.90" fill="#4a4a4a"/>
<text x="0" y="0" font-size="7.992" fill="#2b2b2b" text-anchor="start" font-weight="normal" stroke="#2b2b2b" stroke-width="0.1" transform="translate(57.50 501.50) scale(0.9259 1)" >Geography</text>
<text x="0" y="0" font-size="7.992" fill="#2b2b2b" text-anchor="start" font-weight="normal" stroke="#2b2b2b" stroke-width="0.1" transform="translate(62.50 511.00) scale(0.9259 1)" >United States only</text>
<text x="0" y="0" font-size="8.239" fill="#2b2b2b" text-anchor="middle" font-weight="normal" stroke="#2b2b2b" stroke-width="0.1" transform="translate(171.20 511.00) scale(0.9346 1)" >2</text>
<text x="0" y="0" font-size="8.239" fill="#2b2b2b" text-anchor="middle" font-weight="normal" stroke="#2b2b2b" stroke-width="0.1" transform="translate(226.50 511.00) scale(0.9346 1)" >330</text>
<text x="0" y="0" font-size="8.239" fill="#2b2b2b" text-anchor="middle" font-weight="normal" stroke="#2b2b2b" stroke-width="0.1" transform="translate(463.20 511.00) scale(0.9346 1)" >35.8 (34.0–37.7)</text>
<line x1="325.49" y1="509.00" x2="340.19" y2="509.00" stroke="#5f9c64" stroke-width="1.05"/>
<line x1="325.49" y1="507.20" x2="325.49" y2="510.80" stroke="#4d5a4f" stroke-width="1"/>
<line x1="340.19" y1="507.20" x2="340.19" y2="510.80" stroke="#4d5a4f" stroke-width="1"/>
<rect x="330.64" y="507.00" width="4.00" height="4.00" fill="#349a40"/>
<text x="0" y="0" font-size="7.992" fill="#2b2b2b" text-anchor="start" font-weight="normal" stroke="#2b2b2b" stroke-width="0.1" transform="translate(62.50 518.50) scale(0.9259 1)" >Europe only</text>
<rect x="169.40" y="516.05" width="3.60" height="0.90" fill="#4a4a4a"/>
<rect x="224.70" y="516.05" width="3.60" height="0.90" fill="#4a4a4a"/>
<rect x="461.40" y="516.05" width="3.60" height="0.90" fill="#4a4a4a"/>
<text x="0" y="0" font-size="7.979" fill="#435f8f" text-anchor="start" font-weight="normal" stroke="#435f8f" stroke-width="0.1" transform="translate(25.00 528.70) scale(0.9174 1)" >Leukapheresis-to-product release</text>
<text x="0" y="0" font-size="7.992" fill="#2b2b2b" text-anchor="start" font-weight="normal" stroke="#2b2b2b" stroke-width="0.1" transform="translate(57.50 539.00) scale(0.9259 1)" >Overall</text>
<text x="0" y="0" font-size="8.239" fill="#2b2b2b" text-anchor="middle" font-weight="normal" stroke="#2b2b2b" stroke-width="0.1" transform="translate(171.20 539.00) scale(0.9346 1)" >4</text>
<text x="0" y="0" font-size="8.239" fill="#2b2b2b" text-anchor="middle" font-weight="normal" stroke="#2b2b2b" stroke-width="0.1" transform="translate(226.50 539.00) scale(0.9346 1)" >443</text>
<text x="0" y="0" font-size="8.239" fill="#2b2b2b" text-anchor="middle" font-weight="normal" stroke="#2b2b2b" stroke-width="0.1" transform="translate(463.20 539.00) scale(0.9346 1)" >24.4 (23.4–25.5)</text>
<polygon points="283.27,537.00 287.44,533.10 291.62,537.00 287.44,540.90" fill="#bb6310"/>
<text x="0" y="0" font-size="7.992" fill="#2b2b2b" text-anchor="start" font-weight="normal" stroke="#2b2b2b" stroke-width="0.1" transform="translate(57.50 550.00) scale(0.9259 1)" >Study design</text>
<text x="0" y="0" font-size="7.992" fill="#2b2b2b" text-anchor="start" font-weight="normal" stroke="#2b2b2b" stroke-width="0.1" transform="translate(62.50 559.00) scale(0.9259 1)" >Clinical trials</text>
<text x="0" y="0" font-size="8.239" fill="#2b2b2b" text-anchor="middle" font-weight="normal" stroke="#2b2b2b" stroke-width="0.1" transform="translate(171.20 559.00) scale(0.9346 1)" >4</text>
<text x="0" y="0" font-size="8.239" fill="#2b2b2b" text-anchor="middle" font-weight="normal" stroke="#2b2b2b" stroke-width="0.1" transform="translate(226.50 559.00) scale(0.9346 1)" >443</text>
<text x="0" y="0" font-size="8.239" fill="#2b2b2b" text-anchor="middle" font-weight="normal" stroke="#2b2b2b" stroke-width="0.1" transform="translate(463.20 559.00) scale(0.9346 1)" >24.4 (23.4–25.5)</text>
<line x1="283.37" y1="557.10" x2="291.72" y2="557.10" stroke="#5f9c64" stroke-width="1.05"/>
<line x1="283.37" y1="555.30" x2="283.37" y2="558.90" stroke="#4d5a4f" stroke-width="1"/>
<line x1="291.72" y1="555.30" x2="291.72" y2="558.90" stroke="#4d5a4f" stroke-width="1"/>
<rect x="285.35" y="555.10" width="4.00" height="4.00" fill="#349a40"/>
<text x="0" y="0" font-size="7.992" fill="#2b2b2b" text-anchor="start" font-weight="normal" stroke="#2b2b2b" stroke-width="0.1" transform="translate(62.50 567.50) scale(0.9259 1)" >Observational studies</text>
<rect x="169.40" y="565.05" width="3.60" height="0.90" fill="#4a4a4a"/>
<rect x="224.70" y="565.05" width="3.60" height="0.90" fill="#4a4a4a"/>
<rect x="461.40" y="565.05" width="3.60" height="0.90" fill="#4a4a4a"/>
<text x="0" y="0" font-size="7.992" fill="#2b2b2b" text-anchor="start" font-weight="normal" stroke="#2b2b2b" stroke-width="0.1" transform="translate(57.50 577.00) scale(0.9259 1)" >Geography</text>
<text x="0" y="0" font-size="7.992" fill="#2b2b2b" text-anchor="start" font-weight="normal" stroke="#2b2b2b" stroke-width="0.1" transform="translate(62.50 586.00) scale(0.9259 1)" >United States only</text>
<text x="0" y="0" font-size="8.239" fill="#2b2b2b" text-anchor="middle" font-weight="normal" stroke="#2b2b2b" stroke-width="0.1" transform="translate(171.20 586.00) scale(0.9346 1)" >3</text>
<text x="0" y="0" font-size="8.239" fill="#2b2b2b" text-anchor="middle" font-weight="normal" stroke="#2b2b2b" stroke-width="0.1" transform="translate(226.50 586.00) scale(0.9346 1)" >399</text>
<text x="0" y="0" font-size="8.239" fill="#2b2b2b" text-anchor="middle" font-weight="normal" stroke="#2b2b2b" stroke-width="0.1" transform="translate(463.20 586.00) scale(0.9346 1)" >23.7 (23.1–24.4)</text>
<line x1="282.18" y1="583.80" x2="287.35" y2="583.80" stroke="#5f9c64" stroke-width="1.05"/>
<line x1="282.18" y1="582.00" x2="282.18" y2="585.60" stroke="#4d5a4f" stroke-width="1"/>
<line x1="287.35" y1="582.00" x2="287.35" y2="585.60" stroke="#4d5a4f" stroke-width="1"/>
<rect x="282.57" y="581.80" width="4.00" height="4.00" fill="#349a40"/>
<text x="0" y="0" font-size="7.992" fill="#2b2b2b" text-anchor="start" font-weight="normal" stroke="#2b2b2b" stroke-width="0.1" transform="translate(62.50 594.00) scale(0.9259 1)" >Europe only</text>
<rect x="169.40" y="591.55" width="3.60" height="0.90" fill="#4a4a4a"/>
<rect x="224.70" y="591.55" width="3.60" height="0.90" fill="#4a4a4a"/>
<rect x="461.40" y="591.55" width="3.60" height="0.90" fill="#4a4a4a"/>
<rect x="17.50" y="601.20" width="495.50" height="1.60" fill="#141414"/>
<rect x="250.08" y="602.20" width="0.8" height="2.90" fill="#444"/>
<rect x="253.08" y="602.20" width="0.8" height="2.90" fill="#444"/>
<rect x="257.08" y="602.20" width="0.8" height="2.90" fill="#444"/>
<rect x="261.08" y="602.20" width="0.8" height="2.90" fill="#444"/>
<rect x="265.08" y="602.20" width="0.8" height="2.90" fill="#444"/>
<rect x="269.08" y="602.20" width="0.8" height="2.90" fill="#444"/>
<rect x="273.08" y="602.20" width="0.8" height="2.90" fill="#444"/>
<rect x="277.08" y="602.20" width="0.8" height="2.90" fill="#444"/>
<rect x="281.08" y="602.20" width="0.8" height="2.90" fill="#444"/>
<rect x="285.08" y="602.20" width="0.8" height="2.90" fill="#444"/>
<rect x="289.08" y="602.20" width="0.8" height="2.90" fill="#444"/>
<rect x="293.08" y="602.20" width="0.8" height="2.90" fill="#444"/>
<rect x="297.08" y="602.20" width="0.8" height="2.90" fill="#444"/>
<rect x="301.08" y="602.20" width="0.8" height="2.90" fill="#444"/>
<rect x="305.08" y="602.20" width="0.8" height="2.90" fill="#444"/>
<rect x="309.08" y="602.20" width="0.8" height="2.90" fill="#444"/>
<rect x="313.08" y="602.20" width="0.8" height="2.90" fill="#444"/>
<rect x="317.08" y="602.20" width="0.8" height="2.90" fill="#444"/>
<rect x="321.08" y="602.20" width="0.8" height="2.90" fill="#444"/>
<rect x="325.08" y="602.20" width="0.8" height="2.90" fill="#444"/>
<rect x="329.08" y="602.20" width="0.8" height="2.90" fill="#444"/>
<rect x="333.08" y="602.20" width="0.8" height="2.90" fill="#444"/>
<rect x="337.08" y="602.20" width="0.8" height="2.90" fill="#444"/>
<rect x="341.08" y="602.20" width="0.8" height="2.90" fill="#444"/>
<rect x="345.08" y="602.20" width="0.8" height="2.90" fill="#444"/>
<rect x="349.08" y="602.20" width="0.8" height="2.90" fill="#444"/>
<rect x="353.08" y="602.20" width="0.8" height="2.90" fill="#444"/>
<rect x="357.08" y="602.20" width="0.8" height="2.90" fill="#444"/>
<rect x="361.08" y="602.20" width="0.8" height="2.90" fill="#444"/>
<rect x="365.08" y="602.20" width="0.8" height="2.90" fill="#444"/>
<rect x="369.08" y="602.20" width="0.8" height="2.90" fill="#444"/>
<rect x="373.08" y="602.20" width="0.8" height="2.90" fill="#444"/>
<rect x="377.08" y="602.20" width="0.8" height="2.90" fill="#444"/>
<rect x="381.08" y="602.20" width="0.8" height="2.90" fill="#444"/>
<rect x="385.08" y="602.20" width="0.8" height="2.90" fill="#444"/>
<rect x="389.08" y="602.20" width="0.8" height="2.90" fill="#444"/>
<rect x="393.08" y="602.20" width="0.8" height="2.90" fill="#444"/>
<rect x="397.08" y="602.20" width="0.8" height="2.90" fill="#444"/>
<rect x="400.08" y="602.20" width="0.8" height="2.90" fill="#444"/>
<rect x="404.08" y="602.20" width="0.8" height="2.90" fill="#444"/>
<rect x="408.08" y="602.20" width="0.8" height="2.90" fill="#444"/>
<rect x="412.08" y="602.20" width="0.8" height="2.90" fill="#444"/>
<rect x="416.08" y="602.20" width="0.8" height="2.90" fill="#444"/>
<rect x="420.08" y="602.20" width="0.8" height="2.90" fill="#444"/>
<rect x="424.08" y="602.20" width="0.8" height="2.90" fill="#444"/>
<rect x="428.08" y="602.20" width="0.8" height="2.90" fill="#444"/>
<text x="0" y="0" font-size="7.811" fill="#2b2b2b" text-anchor="middle" font-weight="normal" stroke="#2b2b2b" stroke-width="0.1" transform="translate(250.00 614.40) scale(0.9346 1)" >15</text>
<text x="0" y="0" font-size="7.811" fill="#2b2b2b" text-anchor="middle" font-weight="normal" stroke="#2b2b2b" stroke-width="0.1" transform="translate(269.87 614.40) scale(0.9346 1)" >20</text>
<text x="0" y="0" font-size="7.811" fill="#2b2b2b" text-anchor="middle" font-weight="normal" stroke="#2b2b2b" stroke-width="0.1" transform="translate(289.73 614.40) scale(0.9346 1)" >25</text>
<text x="0" y="0" font-size="7.811" fill="#2b2b2b" text-anchor="middle" font-weight="normal" stroke="#2b2b2b" stroke-width="0.1" transform="translate(309.60 614.40) scale(0.9346 1)" >30</text>
<text x="0" y="0" font-size="7.811" fill="#2b2b2b" text-anchor="middle" font-weight="normal" stroke="#2b2b2b" stroke-width="0.1" transform="translate(329.46 614.40) scale(0.9346 1)" >35</text>
<text x="0" y="0" font-size="7.811" fill="#2b2b2b" text-anchor="middle" font-weight="normal" stroke="#2b2b2b" stroke-width="0.1" transform="translate(349.32 614.40) scale(0.9346 1)" >40</text>
<text x="0" y="0" font-size="7.811" fill="#2b2b2b" text-anchor="middle" font-weight="normal" stroke="#2b2b2b" stroke-width="0.1" transform="translate(369.19 614.40) scale(0.9346 1)" >45</text>
<text x="0" y="0" font-size="7.811" fill="#2b2b2b" text-anchor="middle" font-weight="normal" stroke="#2b2b2b" stroke-width="0.1" transform="translate(389.06 614.40) scale(0.9346 1)" >50</text>
<text x="0" y="0" font-size="7.811" fill="#2b2b2b" text-anchor="middle" font-weight="normal" stroke="#2b2b2b" stroke-width="0.1" transform="translate(408.92 614.40) scale(0.9346 1)" >55</text>
<text x="0" y="0" font-size="7.811" fill="#2b2b2b" text-anchor="middle" font-weight="normal" stroke="#2b2b2b" stroke-width="0.1" transform="translate(428.78 614.40) scale(0.9346 1)" >60</text>
<text x="0" y="0" font-size="9.9" font-weight="bold" fill="#2b2b2b" text-anchor="middle" transform="translate(339.3 627.3) scale(0.56 1)">Days</text>
</svg>
<div id="frame"></div>
</body></html>
